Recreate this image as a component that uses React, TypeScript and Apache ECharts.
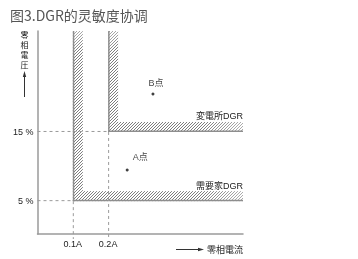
import React, { useEffect, useRef } from 'react';
import * as echarts from 'echarts';

const titleText = '图3.DGR的灵敏度协调';
const xTicks = [0.1, 0.2];
const xTickLabels = ['0.1A', '0.2A'];
const yTicks = [5, 15];
const yTickLabels = ['5 %', '15 %'];
const bandNames = ['需要家DGR', '変電所DGR'];
const bandCurrents = [0.1, 0.2];
const bandVoltages = [5, 15];
const pointNames = ['A点', 'B点'];
const pointCurrents = [0.254, 0.327];
const pointVoltages = [9.5, 20.5];
const xName = '零相電流';
const yName = '零相電圧';
const xMin = 0;
const xMax = 0.582;
const yMin = 0.25;
const yMax = 29.6;

const LATIN = 'Liberation Sans, Arial, Noto Sans CJK JP, sans-serif';

function lerpGray(t: number) {
  const a = 0xbe, b = 0x7c;
  const v = Math.round(a + (b - a) * Math.max(0, Math.min(1, t)));
  return `rgb(${v},${v},${v})`;
}

function hatch(x0: number, y0: number, x1: number, y1: number, colorFn: (x: number, y: number) => string, spacing = 3) {
  const els: any[] = [];
  const kStart = Math.ceil((x0 + y0) / spacing) * spacing;
  for (let k = kStart; k <= x1 + y1; k += spacing) {
    const xs = Math.max(x0, k - y1);
    const xe = Math.min(x1, k - y0);
    if (xe <= xs) continue;
    const mx = (xs + xe) / 2;
    const my = k - mx;
    els.push({
      type: 'line',
      shape: { x1: xs, y1: k - xs, x2: xe, y2: k - xe },
      style: { stroke: colorFn(mx, my), lineWidth: 1 },
    });
  }
  return els;
}

export default function App() {
  const ref = useRef<HTMLDivElement>(null);
  useEffect(() => {
    if (!ref.current) return;
    const chart = echarts.init(ref.current, null, { renderer: 'svg' });
    const bw = 10;
    const bandData = bandCurrents.map((c, i) => [c, bandVoltages[i], i]);
    const yNameChars = yName.split('');
    const option: any = {
      animation: false,
      title: {
        text: titleText,
        left: 5,
        top: 3,
        textStyle: { fontSize: 14, color: '#555', fontWeight: 'normal', fontFamily: 'Noto Sans CJK SC' },
      },
      grid: { left: 37.5, top: 31, right: 115, bottom: 25, outerBoundsMode: 'none', containLabel: false },
      xAxis: {
        type: 'value',
        min: xMin,
        max: xMax,
        axisLine: { show: true, lineStyle: { color: '#9a9a9a', width: 1.5 } },
        axisTick: { show: false },
        splitLine: { show: false },
        axisLabel: {
          customValues: xTicks,
          formatter: (v: number) => xTickLabels[xTicks.findIndex((t) => Math.abs(t - v) < 1e-9)] ?? '',
          fontSize: 9,
          color: '#222',
          margin: 5,
          fontFamily: LATIN,
        },
      },
      yAxis: {
        type: 'value',
        min: yMin,
        max: yMax,
        axisLine: { show: true, lineStyle: { color: '#9a9a9a', width: 1.5 } },
        axisTick: { show: false },
        splitLine: { show: false },
        axisLabel: {
          customValues: yTicks,
          formatter: (v: number) => yTickLabels[yTicks.findIndex((t) => Math.abs(t - v) < 1e-9)] ?? '',
          fontSize: 9,
          color: '#222',
          margin: 4,
          fontFamily: LATIN,
        },
      },
      series: [
        {
          type: 'custom',
          clip: false,
          z: 2,
          data: bandData,
          renderItem: (params: any, api: any) => {
            const cs = params.coordSys;
            const p = api.coord([api.value(0), api.value(1)]);
            const vx = p[0];
            const vy = p[1];
            const top = cs.y;
            const right = cs.x + cs.width;
            const idx = api.value(2);
            const children: any[] = [];
            children.push(
              ...hatch(vx, top, vx + bw, vy - bw, (mx, my) => lerpGray((my - top) / 25 + (vx + bw - mx) / 30))
            );
            children.push(
              ...hatch(vx, vy - bw, right, vy, (mx, my) => lerpGray((right - mx) / 50 + (my - (vy - bw)) / 30))
            );
            children.push({
              type: 'line',
              shape: { x1: vx + 0.75, y1: top, x2: vx + 0.75, y2: vy },
              style: { stroke: '#8e8e8e', lineWidth: 1.5 },
            });
            children.push({
              type: 'line',
              shape: { x1: vx, y1: vy - 0.75, x2: right, y2: vy - 0.75 },
              style: { stroke: '#8e8e8e', lineWidth: 1.5 },
            });
            children.push({
              type: 'text',
              style: {
                text: bandNames[idx],
                x: right,
                y: vy - bw - 1,
                align: 'right',
                verticalAlign: 'bottom',
                fontSize: 9,
                fontFamily: LATIN,
                fill: '#222',
              },
            });
            return { type: 'group', children };
          },
        },
        {
          type: 'custom',
          clip: false,
          z: 3,
          data: bandData,
          renderItem: (params: any, api: any) => {
            const cs = params.coordSys;
            const p = api.coord([api.value(0), api.value(1)]);
            const vx = p[0];
            const vy = p[1];
            const bottom = cs.y + cs.height;
            const style = { stroke: '#9a9a9a', lineWidth: 1, lineDash: [3, 3] };
            return {
              type: 'group',
              children: [
                { type: 'line', shape: { x1: vx + 0.5, y1: vy, x2: vx + 0.5, y2: bottom + 5 }, style },
                { type: 'line', shape: { x1: cs.x, y1: vy - 0.5, x2: vx, y2: vy - 0.5 }, style },
              ],
            };
          },
        },
        {
          type: 'scatter',
          z: 4,
          symbol: 'circle',
          symbolSize: 3,
          itemStyle: { color: '#111' },
          data: pointCurrents.map((c, i) => ({
            value: [c, pointVoltages[i]],
            name: pointNames[i],
            label: {
              show: true,
              position: 'top',
              offset: i === 0 ? [13, -2] : [3, 0],
              formatter: '{b}',
              fontSize: 9,
              color: '#111',
              fontFamily: LATIN,
            },
          })),
        },
      ],
      graphic: [
        ...yNameChars.map((ch, i) => ({
          type: 'text',
          x: 24.5,
          y: 34 + i * 10,
          style: {
            text: ch,
            align: 'center',
            verticalAlign: 'middle',
            fontSize: 8,
            lineHeight: 8,
            fontFamily: 'Noto Sans CJK JP',
            fill: '#222',
          },
        })),
        { type: 'line', shape: { x1: 24.5, y1: 97, x2: 24.5, y2: 76 }, style: { stroke: '#333', lineWidth: 1 } },
        { type: 'polygon', shape: { points: [[24.5, 71], [22.8, 77], [26.2, 77]] }, style: { fill: '#333' } },
        { type: 'line', shape: { x1: 176, y1: 249.5, x2: 199, y2: 249.5 }, style: { stroke: '#333', lineWidth: 1 } },
        { type: 'polygon', shape: { points: [[204, 249.5], [198, 247.8], [198, 251.2]] }, style: { fill: '#333' } },
        {
          type: 'text',
          x: 207,
          y: 249.5,
          style: {
            text: xName,
            verticalAlign: 'middle',
            fontSize: 9,
            fontFamily: 'Noto Sans CJK JP',
            fill: '#222',
          },
        },
      ],
    };
    chart.setOption(option);
    return () => chart.dispose();
  }, []);
  return <div ref={ref} style={{ position: 'fixed', left: 0, top: 0, width: 358, height: 259 }} />;
}
